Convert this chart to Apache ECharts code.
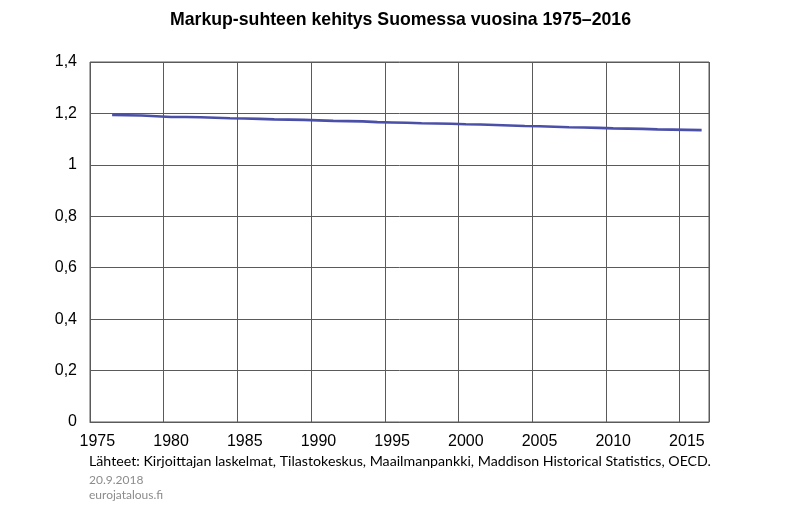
<!DOCTYPE html>
<html>
<head>
<meta charset="utf-8">
<script src="https://cdn.jsdelivr.net/npm/echarts@6/dist/echarts.min.js"></script>
<style>
  html, body { margin: 0; padding: 0; background: #fff; }
  #container { width: 801px; height: 523px; }
</style>
</head>
<body>
<div id="container"></div>
<script>
// vuodet 1975-2016, 1975 ei arvoa
var years = [];
for (var y = 1975; y <= 2016; y++) years.push(String(y));

var markup = [
  null,
  1.194, 1.193, 1.192, 1.189, 1.186, 1.186, 1.185, 1.183, 1.181, 1.180,
  1.179, 1.177, 1.176, 1.175, 1.173, 1.171, 1.170, 1.169, 1.166, 1.165,
  1.164, 1.162, 1.161, 1.160, 1.158, 1.157, 1.155, 1.153, 1.151, 1.150,
  1.148, 1.146, 1.145, 1.144, 1.142, 1.141, 1.140, 1.138, 1.137, 1.136,
  1.135
];

var yTicks = [0, 0.2, 0.4, 0.6, 0.8, 1, 1.2, 1.4];

var titleText = 'Markup-suhteen kehitys Suomessa vuosina 1975–2016';
var sourceText = 'Lähteet: Kirjoittajan laskelmat, Tilastokeskus, Maailmanpankki, Maddison Historical Statistics, OECD.';
var dateText = '20.9.2018';
var siteText = 'eurojatalous.fi';

var gridColor = '#5a5a5a';

var dom = document.getElementById('container');
var myChart = echarts.init(dom);

var option = {
  backgroundColor: '#fff',
  animation: false,
  title: [
    {
      text: titleText,
      left: 'center',
      top: 6,
      textStyle: { fontFamily: 'Liberation Sans', fontSize: 17.7, fontWeight: 'bold', color: '#000' }
    },
    {
      text: sourceText,
      left: 84,
      top: 449,
      textStyle: { fontFamily: 'Lato', fontSize: 14.2, fontWeight: 'normal', color: '#000' }
    },
    {
      text: dateText,
      left: 84,
      top: 469,
      textStyle: { fontFamily: 'Lato', fontSize: 12, fontWeight: 'normal', color: '#8c8c8c' }
    },
    {
      text: siteText,
      left: 84,
      top: 484,
      textStyle: { fontFamily: 'Lato', fontSize: 12, fontWeight: 'normal', color: '#8c8c8c' }
    }
  ],
  grid: {
    left: 90,
    right: 92,
    top: 62,
    bottom: 101,
    show: true,
    borderColor: gridColor,
    borderWidth: 1
  },
  xAxis: {
    type: 'category',
    data: years,
    boundaryGap: true,
    axisLine: { show: true, lineStyle: { color: gridColor, width: 1 } },
    axisTick: { show: false },
    axisLabel: {
      interval: 4,
      margin: 12,
      fontFamily: 'Liberation Sans',
      fontSize: 16,
      color: '#000'
    },
    splitLine: { show: true, interval: 4, lineStyle: { color: gridColor, width: 1 } }
  },
  yAxis: {
    type: 'value',
    min: yTicks[0],
    max: yTicks[yTicks.length - 1],
    interval: 0.2,
    axisLine: { show: false },
    axisTick: { show: false },
    axisLabel: {
      margin: 13,
      fontFamily: 'Liberation Sans',
      fontSize: 16,
      color: '#000',
      formatter: function (v) {
        return String(Math.round(v * 10) / 10).replace('.', ',');
      }
    },
    splitLine: { show: true, lineStyle: { color: gridColor, width: 1 } }
  },
  series: [
    {
      name: 'Markup',
      type: 'line',
      data: markup,
      showSymbol: false,
      symbol: 'none',
      smooth: false,
      lineStyle: { color: '#4a4fa8', width: 2.6 },
      itemStyle: { color: '#4a4fa8' }
    }
  ]
};

if (option && typeof option === 'object') {
  myChart.setOption(option, true);
}
</script>
</body>
</html>
